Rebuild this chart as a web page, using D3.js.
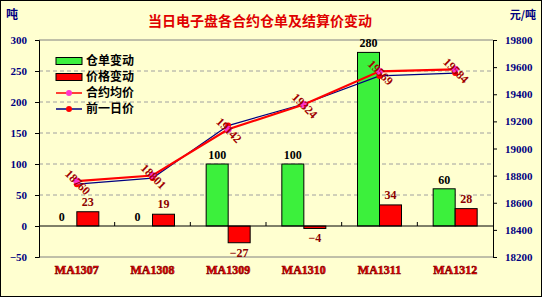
<!DOCTYPE html>
<html>
<head>
<meta charset="utf-8">
<script src="https://cdn.jsdelivr.net/npm/d3@7"></script>
<style>
  body { margin: 0; background: #fff; }
  svg text { font-family: "Liberation Serif", "Noto Sans CJK SC", serif; font-weight: bold; }
  .cjk { font-family: "Noto Sans CJK SC", sans-serif; }
</style>
</head>
<body>
<div id="chart"></div>
<script>
// contracts and the day's changes
const categories = ['MA1307', 'MA1308', 'MA1309', 'MA1310', 'MA1311', 'MA1312'];
const receiptChange = [0, 0, 100, 100, 280, 60];
const priceChange = [23, 19, -27, -4, 34, 28];
const avgPrice = [18760, 18801, 19142, 19324, 19569, 19584];
const prevPrice = [18737, 18782, 19169, 19328, 19535, 19556];
const leftTicks = [300, 250, 200, 150, 100, 50, 0, -50];
const rightTicks = [19800, 19600, 19400, 19200, 19000, 18800, 18600, 18400, 18200];

const width = 542;
const height = 297;
const margin = { top: 40, right: 49, bottom: 40, left: 39 };
const bg = '#ffffd0';

const svg = d3.select('#chart').append('svg')
    .attr('width', width)
    .attr('height', height);

svg.append('rect')
    .attr('x', 0.5).attr('y', 0.5)
    .attr('width', width - 1).attr('height', height - 1)
    .style('fill', bg)
    .style('stroke', '#000');

const x = d3.scaleBand()
    .domain(categories)
    .range([margin.left, width - margin.right]);

const yLeft = d3.scaleLinear()
    .domain([-50, 300])
    .range([height - margin.bottom, margin.top]);

const yRight = d3.scaleLinear()
    .domain([18200, 19800])
    .range([height - margin.bottom, margin.top]);

// plot frame: grey top/bottom
svg.append('line')
    .attr('x1', margin.left).attr('x2', width - margin.right)
    .attr('y1', yLeft(300)).attr('y2', yLeft(300))
    .style('stroke', '#808080');
svg.append('line')
    .attr('x1', margin.left).attr('x2', width - margin.right)
    .attr('y1', yLeft(-50)).attr('y2', yLeft(-50))
    .style('stroke', '#808080');

// dashed grid
svg.append('g')
    .selectAll('line')
    .data(leftTicks.filter(t => t > 0 && t < 300))
    .enter().append('line')
    .attr('x1', margin.left).attr('x2', width - margin.right)
    .attr('y1', d => yLeft(d)).attr('y2', d => yLeft(d))
    .style('stroke', '#a0a0a0')
    .style('stroke-dasharray', '4,3');

// axes
const leftAxis = svg.append('g')
    .attr('transform', `translate(${margin.left},0)`)
    .call(d3.axisLeft(yLeft).tickValues(leftTicks).tickSize(4).tickPadding(8));
const rightAxis = svg.append('g')
    .attr('transform', `translate(${width - margin.right},0)`)
    .call(d3.axisRight(yRight).tickValues(rightTicks).tickSize(4).tickPadding(8).tickFormat(d3.format('d')));
[leftAxis, rightAxis].forEach((a) => {
    a.select('.domain').style('stroke', '#000');
    a.selectAll('.tick line').style('stroke', '#000');
    a.selectAll('.tick text')
        .style('fill', '#000080')
        .style('font-size', '11px')
        .style('font-family', '"Liberation Serif", serif')
        .style('font-weight', 'bold');
});

// bars
const barW = 22;
const cx = d => x(d) + x.bandwidth() / 2;

svg.append('g')
    .selectAll('rect')
    .data(categories)
    .enter().append('rect')
    .attr('x', d => cx(d) - barW)
    .attr('width', barW)
    .attr('y', (d, i) => yLeft(Math.max(0, receiptChange[i])))
    .attr('height', (d, i) => Math.abs(yLeft(receiptChange[i]) - yLeft(0)))
    .style('fill', '#3cf03c')
    .style('stroke', (d, i) => (receiptChange[i] === 0 ? 'none' : '#000'))
    .style('stroke-width', 1);

svg.append('g')
    .selectAll('rect')
    .data(categories)
    .enter().append('rect')
    .attr('x', d => cx(d))
    .attr('width', barW)
    .attr('y', (d, i) => yLeft(Math.max(0, priceChange[i])))
    .attr('height', (d, i) => Math.abs(yLeft(priceChange[i]) - yLeft(0)))
    .style('fill', '#ff0000')
    .style('stroke', '#000')
    .style('stroke-width', 1);

// zero line with ticks at category boundaries
svg.append('line')
    .attr('x1', margin.left).attr('x2', width - margin.right)
    .attr('y1', yLeft(0)).attr('y2', yLeft(0))
    .style('stroke', '#000');
svg.append('g')
    .selectAll('line')
    .data(categories.slice(1))
    .enter().append('line')
    .attr('x1', d => x(d)).attr('x2', d => x(d))
    .attr('y1', yLeft(0)).attr('y2', yLeft(0) - 4)
    .style('stroke', '#000');

// bar labels
svg.append('g')
    .selectAll('text')
    .data(categories)
    .enter().append('text')
    .attr('x', (d, i) => cx(d) - barW / 2 - (receiptChange[i] === 0 ? 4 : 0))
    .attr('y', (d, i) => yLeft(receiptChange[i]) - 5)
    .attr('text-anchor', 'middle')
    .style('font-size', '12px')
    .style('fill', '#000')
    .text((d, i) => receiptChange[i]);

svg.append('g')
    .selectAll('text')
    .data(categories)
    .enter().append('text')
    .attr('x', d => cx(d) + barW / 2)
    .attr('y', (d, i) => (priceChange[i] >= 0 ? yLeft(priceChange[i]) - 6 : yLeft(priceChange[i]) + 14))
    .attr('text-anchor', 'middle')
    .style('font-size', '12px')
    .style('fill', '#8b0000')
    .text((d, i) => (priceChange[i] < 0 ? `−${-priceChange[i]}` : priceChange[i]));

// price lines
const line = d3.line()
    .x(d => cx(d.c))
    .y(d => yRight(d.v));

const prevData = categories.map((c, i) => ({ c, v: prevPrice[i] }));
const avgData = categories.map((c, i) => ({ c, v: avgPrice[i] }));

svg.append('path')
    .datum(prevData)
    .attr('d', line)
    .style('fill', 'none')
    .style('stroke', '#000080')
    .style('stroke-width', 1.2);

svg.append('path')
    .datum(avgData)
    .attr('d', line)
    .style('fill', 'none')
    .style('stroke', '#ff0000')
    .style('stroke-width', 2.2);

svg.append('g')
    .selectAll('circle')
    .data(prevData)
    .enter().append('circle')
    .attr('cx', d => cx(d.c))
    .attr('cy', d => yRight(d.v))
    .attr('r', 3)
    .style('fill', '#ff0000');

svg.append('g')
    .selectAll('circle')
    .data(avgData)
    .enter().append('circle')
    .attr('cx', d => cx(d.c))
    .attr('cy', d => yRight(d.v))
    .attr('r', 3.5)
    .style('fill', '#ff33cc');

// rotated price labels
svg.append('g')
    .selectAll('text')
    .data(avgData)
    .enter().append('text')
    .attr('transform', d => `translate(${cx(d.c) + 1},${yRight(d.v) + 1}) rotate(45)`)
    .attr('text-anchor', 'middle')
    .attr('dy', '0.35em')
    .style('font-size', '12px')
    .style('fill', '#a00000')
    .text(d => d.v);

// category labels
svg.append('g')
    .selectAll('text')
    .data(categories)
    .enter().append('text')
    .attr('x', d => cx(d))
    .attr('y', 274)
    .attr('text-anchor', 'middle')
    .style('font-size', '12px')
    .style('fill', '#ff0000')
    .style('stroke', '#800000')
    .style('stroke-width', 0.6)
    .text(d => d);

// legend
const legendItems = [
    { name: '仓单变动', type: 'bar', color: '#3cf03c' },
    { name: '价格变动', type: 'bar', color: '#ff0000' },
    { name: '合约均价', type: 'line', color: '#ff0000', dot: '#ff33cc' },
    { name: '前一日价', type: 'line', color: '#000080', dot: '#ff0000' },
];
const legend = svg.append('g')
    .attr('transform', 'translate(56,61)');
const legendRow = legend.selectAll('g')
    .data(legendItems)
    .enter().append('g')
    .attr('transform', (d, i) => `translate(0,${i * 16})`);
legendRow.filter(d => d.type === 'bar').append('rect')
    .attr('x', 0).attr('y', -3.5)
    .attr('width', 26).attr('height', 7)
    .style('fill', d => d.color)
    .style('stroke', '#000');
legendRow.filter(d => d.type === 'line').append('line')
    .attr('x1', 0).attr('x2', 26)
    .style('stroke', d => d.color)
    .style('stroke-width', 1.5);
legendRow.filter(d => d.type === 'line').append('circle')
    .attr('cx', 13).attr('r', 3)
    .style('fill', d => d.dot);
legendRow.append('text')
    .attr('class', 'cjk')
    .attr('x', 30)
    .attr('dy', '0.35em')
    .style('font-size', '12px')
    .style('fill', '#000')
    .text(d => d.name);

// title and units
svg.append('text')
    .attr('class', 'cjk')
    .attr('x', 260).attr('y', 26)
    .attr('text-anchor', 'middle')
    .style('font-size', '14px')
    .style('fill', '#e00000')
    .text('当日电子盘各合约仓单及结算价变动');
svg.append('text')
    .attr('class', 'cjk')
    .attr('x', 6).attr('y', 19)
    .style('font-size', '12px')
    .style('fill', '#000080')
    .text('吨');
svg.append('text')
    .attr('class', 'cjk')
    .attr('x', 536).attr('y', 19)
    .attr('text-anchor', 'end')
    .style('font-size', '11px')
    .style('fill', '#000080')
    .text('元/吨');
</script>
</body>
</html>
